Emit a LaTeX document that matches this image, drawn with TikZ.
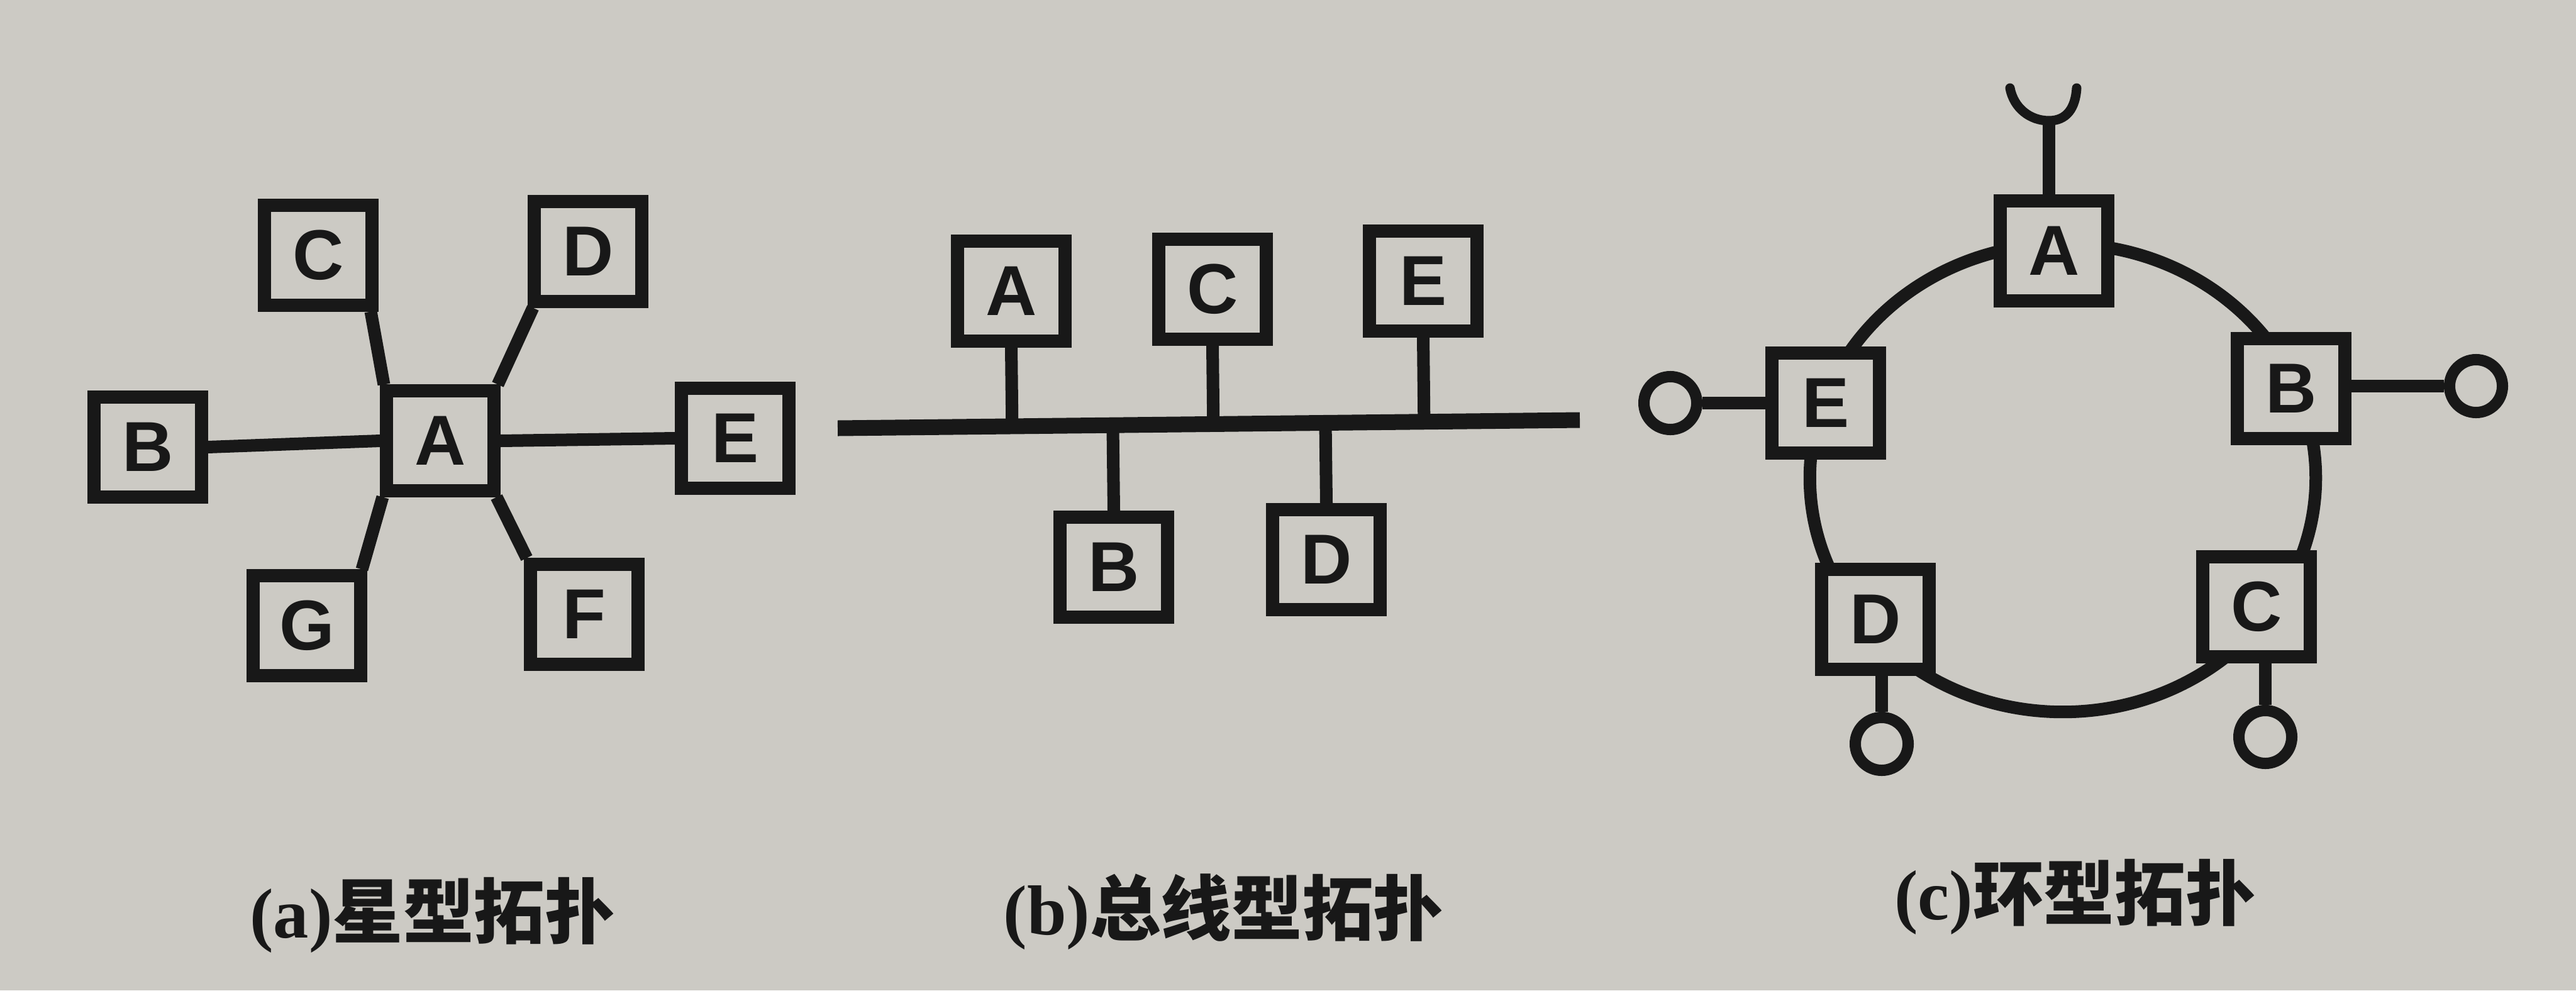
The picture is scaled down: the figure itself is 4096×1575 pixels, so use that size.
\documentclass[tikz,border=0pt]{standalone}
\usepackage{fontspec}
\setmainfont{Liberation Serif}
\setsansfont{Liberation Sans}
\newfontfamily\cjk{Noto Sans CJK SC}
\usetikzlibrary{calc}
\definecolor{paper}{RGB}{204,202,196}
\definecolor{ink}{RGB}{24,24,24}
\begin{document}
\begin{tikzpicture}[x=0.01cm,y=-0.01cm,
  stn/.style={draw=ink,fill=paper,line width=0.21cm,minimum width=1.70cm,minimum height=1.58cm,inner sep=0pt,font=\sffamily\bfseries\fontsize{32}{32}\selectfont,text=ink},
  wire/.style={draw=ink,line width=0.2cm},
  buswire/.style={draw=ink,line width=0.25cm},
  term/.style={circle,draw=ink,fill=paper,line width=0.18cm,minimum size=0.84cm,inner sep=0pt},
  captext/.style={font=\bfseries\fontsize{32}{32}\selectfont,text=ink,inner sep=0pt}]
\useasboundingbox (0,0) rectangle (4096,1575);
\fill[paper] (0,0) rectangle (4096,1575);

% ---------- (a) star ----------
\node[stn] (sA) at (700,701) {A};
\node[stn] (sB) at (235,711) {B};
\node[stn] (sC) at (506,406) {C};
\node[stn] (sD) at (935,400) {D};
\node[stn] (sE) at (1169,697) {E};
\node[stn] (sF) at (929,977) {F};
\node[stn] (sG) at (488,995) {G};
\draw[wire] ($(sC.south east)+(-12,0)$) -- ($(sA.north west)+(6,0)$);
\draw[wire] ($(sD.south west)+(8,0)$) -- ($(sA.north east)+(-4,0)$);
\draw[wire] ($(sA.south west)+(4,0)$) -- ($(sG.north east)+(-8,0)$);
\draw[wire] ($(sA.south east)+(-6,0)$) -- ($(sF.north west)+(4,0)$);
\draw[wire] (sB.east) -- (sA.west);
\draw[wire] (sA.east) -- (sE.west);

% ---------- (b) bus ----------
\coordinate (busL) at (1332,681);
\coordinate (busR) at (2512,668);
\draw[buswire] (busL) -- (busR);
\node[stn] (bA) at (1608,463) {A};
\node[stn] (bC) at (1928,460) {C};
\node[stn] (bE) at (2263,447) {E};
\node[stn] (bB) at (1771,902) {B};
\node[stn] (bD) at (2109,890) {D};
\foreach \n in {bA,bC,bE}{
  \draw[wire] (\n.south) -- ($(busL)!(\n.south)!(busR)$);
}
\foreach \n in {bB,bD}{
  \draw[wire] (\n.north) -- ($(busL)!(\n.north)!(busR)$);
}

% ---------- (c) ring ----------
\draw[wire] (3280,760) ellipse [x radius=4.02cm, y radius=3.72cm];
\node[stn] (rA) at (3266,399) {A};
\node[stn] (rB) at (3643,618) {B};
\node[stn] (rC) at (3588,965) {C};
\node[stn] (rD) at (2982,985) {D};
\node[stn] (rE) at (2903,641) {E};
\node[term] (tB) at (3937,614) {};
\node[term] (tE) at (2656,641) {};
\node[term] (tD) at (2992,1183) {};
\node[term] (tC) at (3602,1172) {};
\draw[wire] (rB.east |- tB.west) -- (tB.west);
\draw[wire] (tE.east) -- (rE.west |- tE.east);
\draw[wire] (rD.south -| tD.north) -- (tD.north);
\draw[wire] (rC.south -| tC.north) -- (tC.north);
\coordinate (antb) at (3258,192);
\draw[wire] (rA.north -| antb) -- (antb);
\draw[draw=ink,line width=0.15cm,line cap=round] (3196,140) .. controls (3202,172) and (3228,192) .. (antb) .. controls (3286,192) and (3300,172) .. (3302,140);

% ---------- captions ----------
\node[captext] (capa) at (688,1455) {(a){\cjk 星型拓扑}};
\node[captext] (capb) at (1946,1450) {(b){\cjk 总线型拓扑}};
\node[captext] (capc) at (3300,1426) {(c){\cjk 环型拓扑}};
\end{tikzpicture}
\end{document}
